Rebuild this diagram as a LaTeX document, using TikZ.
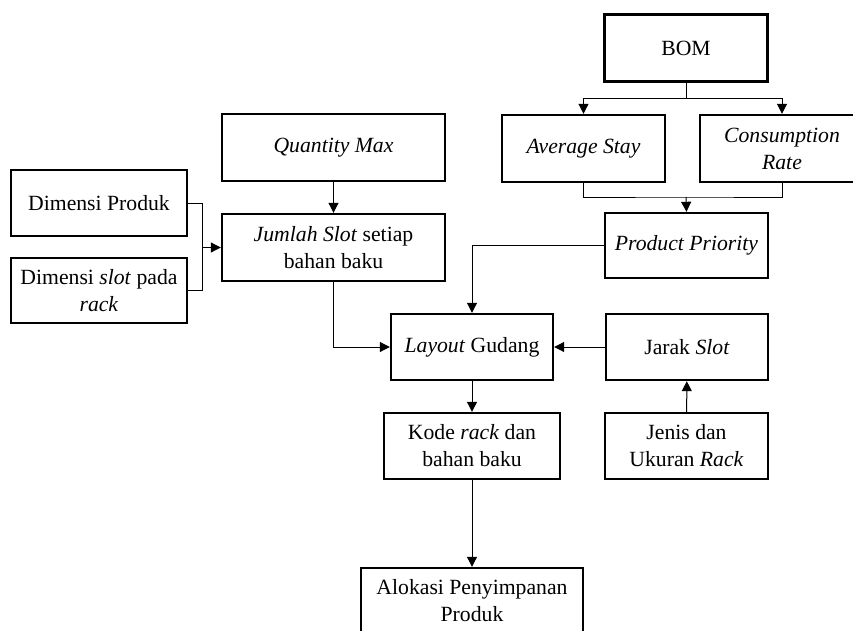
\documentclass[tikz,border=0pt]{standalone}
\usepackage{fontspec}
\setmainfont{Liberation Serif}
\usetikzlibrary{arrows.meta}

\begin{document}
\begin{tikzpicture}[x=1pt,y=-1pt,
    box/.style={draw,line width=2.4pt,align=center,inner sep=0pt,
      font=\fontsize{21.7}{27}\selectfont},
    arr/.style={-{Triangle[length=10pt,width=10pt]},line width=1pt},
    lnk/.style={line width=1pt}]
      \useasboundingbox (0,0) rectangle (853,631);
      \clip (0,0) rectangle (853,631);

      \node[box,minimum width=163pt,minimum height=67pt] (bom) at (686,48) {BOM};
      \node[box,minimum width=163pt,minimum height=67pt] (avg) at (583.5,148.5) {\textit{Average Stay}};
      \node[box,minimum width=164pt,minimum height=67pt] (cons) at (782,148.5) {\textit{Consumption}\\\textit{Rate}};
      \node[box,minimum width=163pt,minimum height=65pt] (prio) at (686.5,245.5) {\textit{Product Priority}};
      \node[box,minimum width=223pt,minimum height=67pt] (qmax) at (333.5,147.5) {\textit{Quantity Max}};
      \node[box,minimum width=223pt,minimum height=67pt] (jml) at (333.5,247.5) {\textit{Jumlah Slot} setiap\\bahan baku};
      \node[box,minimum width=176pt,minimum height=66pt] (dprod) at (99,203) {Dimensi Produk};
      \node[box,minimum width=176pt,minimum height=65pt] (dslot) at (99,290.5) {Dimensi \textit{slot} pada\\\textit{rack}};
      \node[box,minimum width=162pt,minimum height=66pt] (lay) at (472,347) {\textit{Layout} Gudang};
      \node[box,minimum width=162pt,minimum height=66pt] (jarak) at (687,347) {Jarak \textit{Slot}};
      \node[box,minimum width=176pt,minimum height=66pt] (kode) at (472,446) {Kode \textit{rack} dan\\bahan baku};
      \node[box,minimum width=163pt,minimum height=66pt] (jenis) at (686.5,446) {Jenis dan\\Ukuran \textit{Rack}};
      \node[box,minimum width=222pt,minimum height=66pt] (alok) at (472,601) {Alokasi Penyimpanan\\Produk};

      \coordinate (join) at (686,197);
      \coordinate (mrg) at (202,247.5);

      \draw[arr] (bom.south) -- ++(0,16) -| (avg.north);
      \draw[arr] (bom.south) -- ++(0,16) -| (cons.north);
      \draw[lnk] (avg.south) |- (join) -| (cons.south);
      \draw[arr] (join) -- (prio.north);
      \draw[arr] (prio.west) -| (lay.north);
      \draw[arr] (qmax) -- (jml);
      \draw[lnk] (dprod.east) -| (mrg);
      \draw[lnk] (dslot.east) -| (mrg);
      \draw[arr] (mrg) -- (jml.west);
      \draw[arr] (jml.south) |- (lay.west);
      \draw[arr] (jarak) -- (lay);
      \draw[arr] (jenis) -- (jarak);
      \draw[arr] (lay) -- (kode);
      \draw[arr] (kode) -- (alok);
    \end{tikzpicture}
\end{document}
